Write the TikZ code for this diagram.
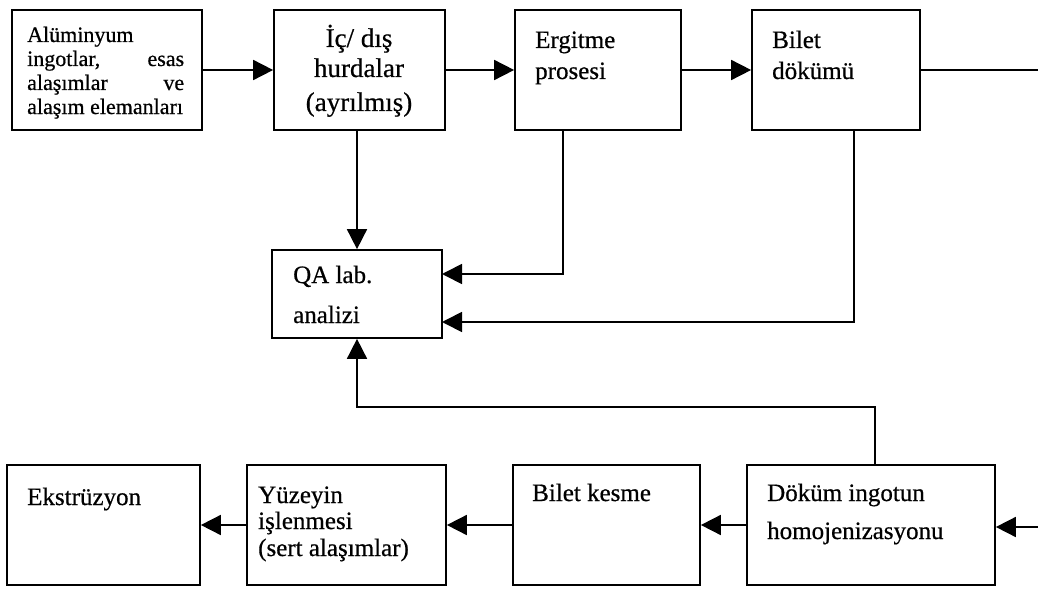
\documentclass[tikz,border=0pt]{standalone}
\usepackage{fontspec}
\setmainfont{Liberation Serif}[FakeBold=0.6]
\usetikzlibrary{arrows.meta}
\begin{document}
\begin{tikzpicture}[x=1pt,y=-1pt,
  box/.style={draw, line width=1.7pt, inner sep=0pt},
  lbl/.style={anchor=base west, inner sep=0pt, font=\fontsize{25}{25}\selectfont},
  lblsmall/.style={anchor=base west, inner sep=0pt, font=\fontsize{22}{22}\selectfont},
  lblbig/.style={anchor=base, inner sep=0pt, font=\fontsize{27}{27}\selectfont},
  ln/.style={line width=1.7pt},
  arr/.style={line width=1.7pt, -{Triangle[length=20pt,width=20pt]}}]
\useasboundingbox (0,0) rectangle (1038,591);
% boxes
\node[box, minimum width=190pt, minimum height=120pt] (b1) at (107,70) {};
\node[box, minimum width=171pt, minimum height=120pt] (b2) at (359.5,70) {};
\node[box, minimum width=166pt, minimum height=120pt] (b3) at (598,70) {};
\node[box, minimum width=168pt, minimum height=120pt] (b4) at (836,70) {};
\node[box, minimum width=170pt, minimum height=88pt] (qa) at (357,294) {};
\node[box, minimum width=193pt, minimum height=120pt] (ek) at (103.5,525) {};
\node[box, minimum width=199pt, minimum height=120pt] (yz) at (346.5,525) {};
\node[box, minimum width=187pt, minimum height=120pt] (bk) at (606.5,525) {};
\node[box, minimum width=248pt, minimum height=120pt] (dk) at (871,525) {};
% texts
\node[lblsmall] (t1a) at (27,42) {Alüminyum};
\node[lblsmall] (t1b) at (27,66) {\hbox to 157pt{ingotlar,\hfill esas}};
\node[lblsmall] (t1c) at (27,90) {\hbox to 157pt{alaşımlar\hfill ve}};
\node[lblsmall] (t1d) at (27,114) {alaşım elemanları};
\node[lblbig] (t2a) at (359,47) {İç/ dış};
\node[lblbig] (t2b) at (359,77) {hurdalar};
\node[lblbig] (t2c) at (359,111) {(ayrılmış)};
\node[lbl] (t3a) at (535,48) {Ergitme};
\node[lbl] (t3b) at (535,79) {prosesi};
\node[lbl] (t4a) at (772,48) {Bilet};
\node[lbl] (t4b) at (772,79) {dökümü};
\node[lbl] (tqa) at (293,283) {QA lab.};
\node[lbl] (tqb) at (293,323) {analizi};
\node[lbl] (tek) at (27,505) {Ekstrüzyon};
\node[lbl] (tyza) at (258,503) {Yüzeyin};
\node[lbl] (tyzb) at (258,529) {işlenmesi};
\node[lbl] (tyzc) at (258,556) {(sert alaşımlar)};
\node[lbl] (tbk) at (532,501) {Bilet kesme};
\node[lbl] (tdka) at (767,501) {Döküm ingotun};
\node[lbl] (tdkb) at (767,539) {homojenizasyonu};
% coordinates
\coordinate (outTop) at (1038,70);
\coordinate (inBot) at (1038,527);
\coordinate (e3) at (563,130);
\coordinate (e4) at (854,130);
\coordinate (qin1) at (442,274);
\coordinate (qin2) at (442,322);
\coordinate (dtop) at (875,465);
\coordinate (turn) at (875,407);
% connectors
\draw[arr] (b1.east) -- (b2.west);
\draw[arr] (b2.east) -- (b3.west);
\draw[arr] (b3.east) -- (b4.west);
\draw[ln] (b4.east) -- (outTop);
\draw[arr] (qa.north |- b2.south) -- (qa.north);
\draw[arr] (e3) |- (qin1);
\draw[arr] (e4) |- (qin2);
\draw[arr] (dtop) -- (turn) -| (qa.south);
\draw[arr] (inBot) -- (inBot -| dk.east);
\draw[arr] (dk.west) -- (bk.east);
\draw[arr] (bk.west) -- (yz.east);
\draw[arr] (yz.west) -- (ek.east);
\end{tikzpicture}
\end{document}
